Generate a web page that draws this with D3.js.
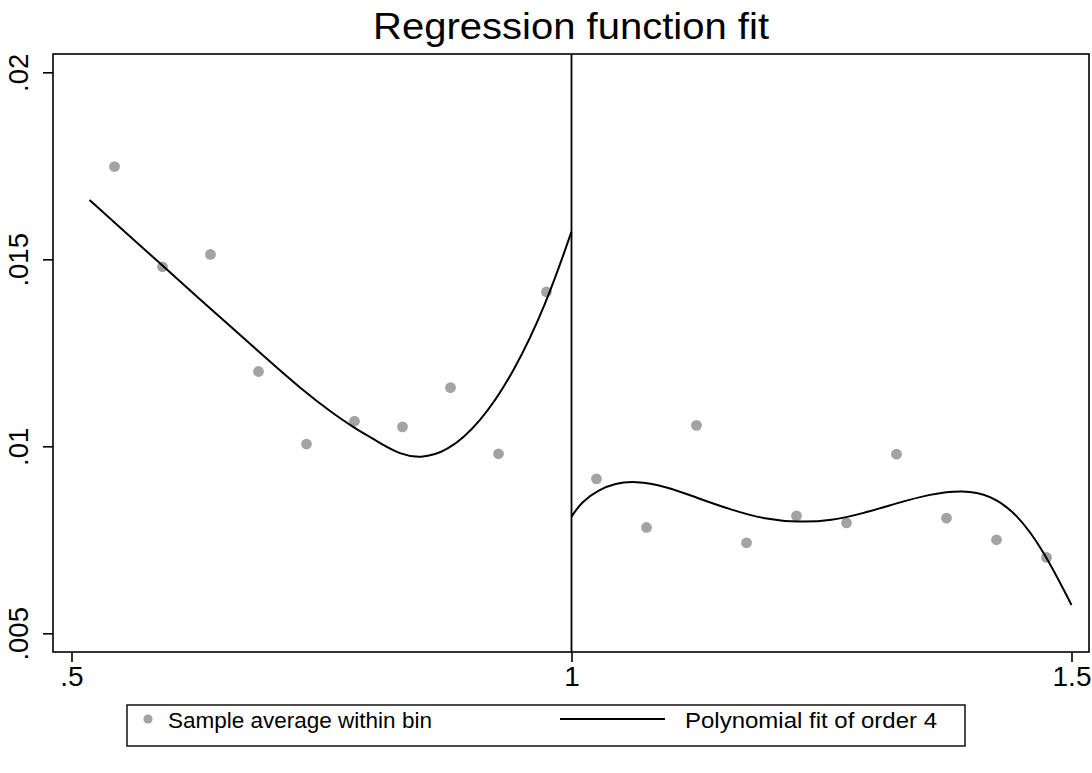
<!DOCTYPE html>
<html>
<head>
<meta charset="utf-8">
<script src="https://cdn.jsdelivr.net/npm/d3@7"></script>
<style>
  html, body { margin: 0; padding: 0; background: #fff; }
  svg { display: block; font-family: "Liberation Sans", Arial, Helvetica, sans-serif; }
</style>
</head>
<body>
<svg id="chart" width="1092" height="773"></svg>
<script>
// ---- Data ----
const titleText = "Regression function fit";
const xTicks = [0.5, 1, 1.5];
const xTickLabels = [".5", "1", "1.5"];
const yTicks = [0.005, 0.01, 0.015, 0.02];
const yTickLabels = [".005", ".01", ".015", ".02"];
const cutoff = 1;

// bin averages, left of cutoff
const binXLeft = [0.543, 0.591, 0.639, 0.687, 0.735, 0.783, 0.831, 0.879, 0.927, 0.975];
const binYLeft = [0.01748, 0.01480, 0.01513, 0.01200, 0.01006, 0.01067, 0.01052, 0.01157, 0.00980, 0.01413];
// bin averages, right of cutoff
const binXRight = [1.025, 1.075, 1.125, 1.175, 1.225, 1.275, 1.325, 1.375, 1.425, 1.475];
const binYRight = [0.00913, 0.00783, 0.01056, 0.00742, 0.00814, 0.00795, 0.00979, 0.00808, 0.00750, 0.00703];

// fitted polynomial curves
const fitXLeft = [0.518, 0.5535, 0.591, 0.6285, 0.662, 0.695, 0.7285, 0.762, 0.7832, 0.795, 0.8085, 0.8285, 0.8485, 0.875, 0.9085, 0.942, 0.975, 1.0];
const fitYLeft = [0.016586, 0.015730, 0.014834, 0.013925, 0.013136, 0.012348, 0.011559, 0.010864, 0.010489, 0.010302, 0.010088, 0.009786, 0.009679, 0.009839, 0.010615, 0.011952, 0.013824, 0.015738];
const fitXRight = [1.0, 1.0102, 1.0268, 1.0435, 1.0635, 1.0935, 1.1268, 1.1602, 1.1935, 1.2268, 1.2602, 1.2918, 1.3252, 1.3585, 1.3918, 1.4185, 1.4452, 1.4718, 1.5];
const fitYRight = [0.008118, 0.008519, 0.008832, 0.009011, 0.009072, 0.008939, 0.00861, 0.008297, 0.008048, 0.007968, 0.008011, 0.008209, 0.008476, 0.008725, 0.008832, 0.008698, 0.008209, 0.007227, 0.005757];

const legendLabels = ["Sample average within bin", "Polynomial fit of order 4"];

// ---- Layout ----
const svg = d3.select("#chart");
const frame = { left: 53, right: 1089, top: 54, bottom: 652 };
const x = d3.scaleLinear().domain([0.5, 1.5]).range([71.5, 1071.5]);
const y = d3.scaleLinear().domain([0.005, 0.02]).range([633.3, 72.3]);
const pointColor = "#a3a3a3";

// title
svg.append("text")
  .attr("x", (frame.left + frame.right) / 2)
  .attr("y", 39)
  .attr("text-anchor", "middle")
  .attr("font-size", 36)
  .attr("textLength", 396)
  .attr("lengthAdjust", "spacingAndGlyphs")
  .attr("fill", "#000")
  .text(titleText);

// frame
svg.append("rect")
  .attr("x", frame.left).attr("y", frame.top)
  .attr("width", frame.right - frame.left).attr("height", frame.bottom - frame.top)
  .attr("fill", "none").attr("stroke", "#000").attr("stroke-width", 1.6);

// x axis
const xAxis = d3.axisBottom(x).tickValues(xTicks)
  .tickFormat((d, i) => xTickLabels[i]).tickSize(10).tickPadding(4);
const gx = svg.append("g").attr("transform", `translate(0,${frame.bottom})`).call(xAxis);
gx.select(".domain").remove();
gx.selectAll(".tick line").attr("stroke", "#000").attr("stroke-width", 1.6);
gx.selectAll(".tick text").attr("font-size", 28).attr("fill", "#000")
  .attr("font-family", "Liberation Sans, Arial, sans-serif");

// y axis
const yAxis = d3.axisLeft(y).tickValues(yTicks)
  .tickFormat((d, i) => yTickLabels[i]).tickSize(10).tickPadding(0);
const gy = svg.append("g").attr("transform", `translate(${frame.left},0)`).call(yAxis);
gy.select(".domain").remove();
gy.selectAll(".tick line").attr("stroke", "#000").attr("stroke-width", 1.6);
gy.selectAll(".tick text")
  .attr("font-size", 27.5).attr("fill", "#000")
  .attr("font-family", "Liberation Sans, Arial, sans-serif")
  .attr("text-anchor", "middle")
  .attr("dy", 0)
  .attr("x", 0)
  .attr("transform", "translate(-25,0) rotate(-90)");

// cutoff line
svg.append("line")
  .attr("x1", x(cutoff)).attr("x2", x(cutoff))
  .attr("y1", frame.top).attr("y2", frame.bottom)
  .attr("stroke", "#000").attr("stroke-width", 1.8);

// points
const pts = binXLeft.map((d, i) => [d, binYLeft[i]])
  .concat(binXRight.map((d, i) => [d, binYRight[i]]));
svg.append("g").selectAll("circle").data(pts).join("circle")
  .attr("cx", d => x(d[0])).attr("cy", d => y(d[1]))
  .attr("r", 5.4).attr("fill", pointColor);

// fit lines
const line = d3.line().x(d => x(d[0])).y(d => y(d[1])).curve(d3.curveBasis);
const fits = [
  fitXLeft.map((d, i) => [d, fitYLeft[i]]),
  fitXRight.map((d, i) => [d, fitYRight[i]])
];
svg.append("g").selectAll("path").data(fits).join("path")
  .attr("d", line).attr("fill", "none").attr("stroke", "#000").attr("stroke-width", 2);

// legend
const lg = svg.append("g");
lg.append("rect").attr("x", 127).attr("y", 705).attr("width", 838).attr("height", 41)
  .attr("fill", "#fff").attr("stroke", "#000").attr("stroke-width", 1.4);
lg.append("circle").attr("cx", 148).attr("cy", 719).attr("r", 4.6).attr("fill", pointColor);
lg.append("text").attr("x", 168).attr("y", 728).attr("font-size", 22.5).attr("fill", "#000")
  .text(legendLabels[0]);
lg.append("line").attr("x1", 560).attr("x2", 665).attr("y1", 719).attr("y2", 719)
  .attr("stroke", "#000").attr("stroke-width", 1.8);
lg.append("text").attr("x", 685).attr("y", 728).attr("font-size", 22.5).attr("fill", "#000")
  .attr("textLength", 252).attr("lengthAdjust", "spacingAndGlyphs")
  .text(legendLabels[1]);
</script>
</body>
</html>
